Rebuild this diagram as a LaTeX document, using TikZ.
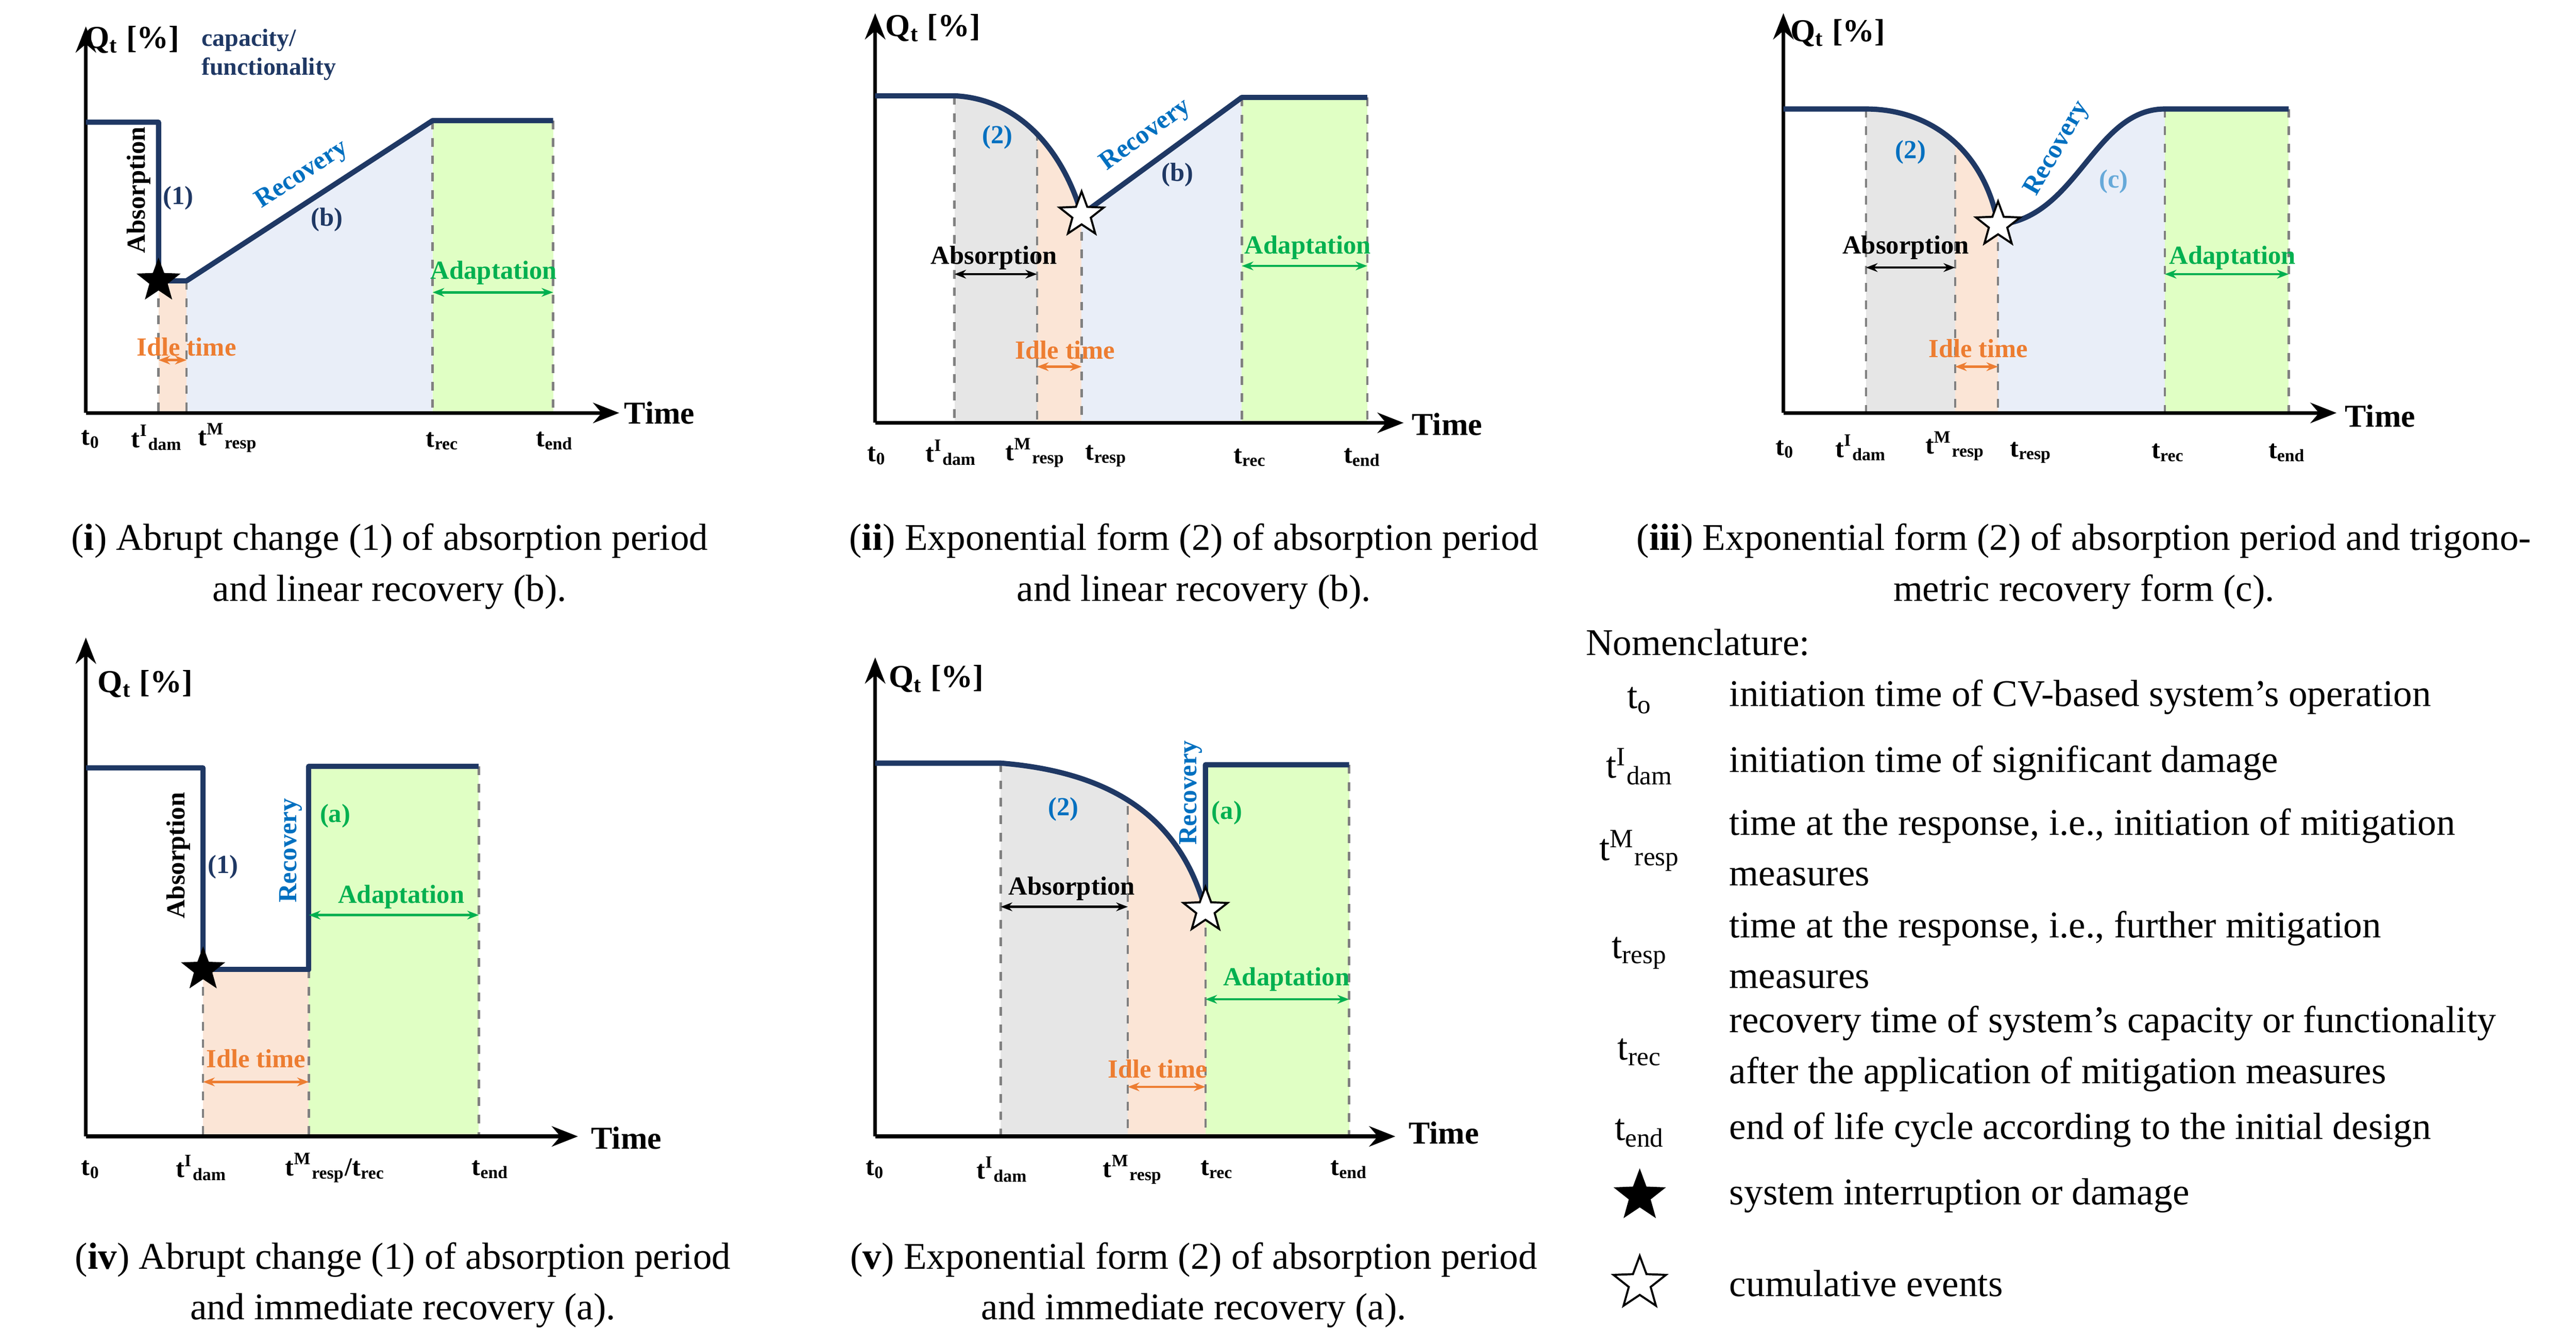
\documentclass[tikz,border=0pt]{standalone}
\usepackage{fontspec}
\setmainfont{Liberation Serif}
\usetikzlibrary{shapes.geometric,arrows.meta}
\definecolor{navy}{HTML}{1F3864}
\definecolor{bl}{HTML}{0070C0}
\definecolor{gr}{HTML}{00B050}
\definecolor{orr}{HTML}{ED7D31}
\definecolor{grayf}{HTML}{E6E6E6}
\definecolor{orf}{HTML}{FBE5D6}
\definecolor{bluf}{HTML}{E9EEF8}
\definecolor{grf}{HTML}{E0FFC4}
\tikzset{
 ax/.style={line width=1.3pt,-{Stealth[length=9pt,width=7pt]}},
 cur/.style={navy,line width=1.8pt,line join=round},
 dsh/.style={gray,dashed,line width=0.8pt},
 lab/.style={font=\fontsize{9}{10}\selectfont\bfseries,inner sep=1pt},
 tk/.style={font=\fontsize{9}{10}\selectfont\bfseries,inner sep=1pt},
 tm/.style={font=\fontsize{11}{12}\selectfont\bfseries,anchor=west,inner sep=1pt},
 dbl/.style={<->,>={Stealth[length=4pt]},line width=0.8pt},
 fstar/.style={star,star points=5,star point ratio=2.4,fill=black,minimum size=16pt,inner sep=0pt},
 ostar/.style={star,star points=5,star point ratio=2.4,fill=white,draw=black,line width=0.7pt,minimum size=16pt,inner sep=0pt},
 capt/.style={font=\fontsize{13}{17.5}\selectfont,align=center,inner sep=0pt},
 nm/.style={font=\fontsize{13}{17.5}\selectfont,inner sep=0pt},
}
\begin{document}
\begin{tikzpicture}[x=0.02cm,y=-0.02cm]
\useasboundingbox (0,0) rectangle (1560,813);
%================ (i)
\fill[orf] (96,170) rectangle (113,250);
\fill[bluf] (113,170) -- (262,73) -- (262,250) -- (113,250) -- cycle;
\fill[grf] (262,73) rectangle (335,250);
\foreach \x/\y in {96/170,113/170,262/73,335/73} \draw[dsh] (\x,\y) -- (\x,250);
\draw[ax] (52,250) -- (52,16);
\draw[ax] (52,250) -- (375,250);
\node[tm] (ti1) at (376,250) {Time};
\node[lab,font=\fontsize{11}{12}\selectfont\bfseries] (q1) at (80,24) {Q\textsubscript{t} [\%]};
\node[lab,navy,align=left,anchor=west,font=\fontsize{8.5}{10}\selectfont\bfseries] (cf1) at (120,33) {capacity/\\functionality};
\draw[cur] (52,74) -- (96,74) -- (96,170) -- (113,170) -- (262,73) -- (335,73);
\node[fstar] (s1) at (96,170) {};
\node[lab,rotate=90] (ab1) at (84,115) {Absorption};
\node[lab,navy] (n1) at (108,120) {(1)};
\node[lab,bl,rotate=33] (r1) at (183,106) {Recovery};
\node[lab,navy] (b1) at (198,133) {(b)};
\node[lab,gr] (ad1) at (299,165) {Adaptation};
\coordinate (a1l) at (262,177); \coordinate (a1r) at (335,177);
\draw[dbl,gr] (a1l) -- (a1r);
\node[lab,orr] (it1) at (113,210) {Idle time};
\coordinate (i1l) at (96,218); \coordinate (i1r) at (113,218);
\draw[dbl,orr] (i1l) -- (i1r);
\node[tk] at (55,266) {t\textsubscript{0}};
\node[tk] at (95,265) {t\textsuperscript{I}\textsubscript{dam}};
\node[tk] at (138,265) {t\textsuperscript{M}\textsubscript{resp}};
\node[tk] at (268,267) {t\textsubscript{rec}};
\node[tk] at (336,267) {t\textsubscript{end}};
\node[capt] at (236,343) {(\textbf{i}) Abrupt change (1) of absorption period\\and linear recovery (b).};
%================ (ii)
\begin{scope}
\clip (578,58) .. controls (620,60) and (645,95) .. (655,130) -- (752,59) -- (752,256) -- (578,256) -- cycle;
\fill[grayf] (578,0) rectangle (628,256);
\fill[orf] (628,0) rectangle (655,256);
\fill[bluf] (655,0) rectangle (752,256);
\end{scope}
\fill[grf] (752,59) rectangle (828,256);
\foreach \x/\y in {578/58,628/80,655/130,752/59,828/59} \draw[dsh] (\x,\y) -- (\x,256);
\draw[ax] (530,256) -- (530,8);
\draw[ax] (530,256) -- (850,256);
\node[tm] at (853,257) {Time};
\node[lab,font=\fontsize{11}{12}\selectfont\bfseries] at (565,17) {Q\textsubscript{t} [\%]};
\draw[cur] (530,58) -- (578,58) .. controls (620,60) and (645,95) .. (655,130) -- (752,59) -- (828,59);
\node[ostar] (s2) at (655,130) {};
\node[lab,bl] at (604,83) {(2)};
\node[lab,bl,rotate=36] at (694,82) {Recovery};
\node[lab,navy] at (713,106) {(b)};
\node[lab] at (602,156) {Absorption};
\coordinate (a2l) at (578,166); \coordinate (a2r) at (628,166);
\draw[dbl] (a2l) -- (a2r);
\node[lab,orr] at (645,212) {Idle time};
\coordinate (i2l) at (628,222); \coordinate (i2r) at (655,222);
\draw[dbl,orr] (i2l) -- (i2r);
\node[lab,gr] at (792,150) {Adaptation};
\coordinate (d2l) at (752,161); \coordinate (d2r) at (828,161);
\draw[dbl,gr] (d2l) -- (d2r);
\node[tk] at (531,276) {t\textsubscript{0}};
\node[tk] at (576,274) {t\textsuperscript{I}\textsubscript{dam}};
\node[tk] at (627,274) {t\textsuperscript{M}\textsubscript{resp}};
\node[tk] at (670,276) {t\textsubscript{resp}};
\node[tk] at (757,277) {t\textsubscript{rec}};
\node[tk] at (825,277) {t\textsubscript{end}};
\node[capt] at (723,343) {(\textbf{ii}) Exponential form (2) of absorption period\\and linear recovery (b).};
%================ (iii)
\begin{scope}
\clip (1130,66) .. controls (1170,66) and (1202,92) .. (1210,136) .. controls (1258,132) and (1268,66) .. (1311,66) -- (1311,250) -- (1130,250) -- cycle;
\fill[grayf] (1130,0) rectangle (1184,250);
\fill[orf] (1184,0) rectangle (1210,250);
\fill[bluf] (1210,0) rectangle (1311,250);
\end{scope}
\fill[grf] (1311,66) rectangle (1386,250);
\foreach \x/\y in {1130/66,1184/94,1210/136,1311/66,1386/66} \draw[dsh] (\x,\y) -- (\x,250);
\draw[ax] (1080,250) -- (1080,8);
\draw[ax] (1080,250) -- (1415,250);
\node[tm] at (1418,252) {Time};
\node[lab,font=\fontsize{11}{12}\selectfont\bfseries] at (1113,20) {Q\textsubscript{t} [\%]};
\draw[cur] (1080,66) -- (1130,66) .. controls (1170,66) and (1202,92) .. (1210,136) .. controls (1258,132) and (1268,66) .. (1311,66) -- (1386,66);
\node[ostar] (s3) at (1210,136) {};
\node[lab,bl] at (1157,92) {(2)};
\node[lab,bl,rotate=60] at (1246,90) {Recovery};
\node[lab,bl!60] at (1280,110) {(c)};
\node[lab] at (1154,150) {Absorption};
\coordinate (a3l) at (1130,162); \coordinate (a3r) at (1184,162);
\draw[dbl] (a3l) -- (a3r);
\node[lab,orr] at (1198,211) {Idle time};
\coordinate (i3l) at (1184,222); \coordinate (i3r) at (1210,222);
\draw[dbl,orr] (i3l) -- (i3r);
\node[lab,gr] at (1352,156) {Adaptation};
\coordinate (d3l) at (1311,166); \coordinate (d3r) at (1386,166);
\draw[dbl,gr] (d3l) -- (d3r);
\node[tk] at (1081,272) {t\textsubscript{0}};
\node[tk] at (1127,271) {t\textsuperscript{I}\textsubscript{dam}};
\node[tk] at (1184,270) {t\textsuperscript{M}\textsubscript{resp}};
\node[tk] at (1230,274) {t\textsubscript{resp}};
\node[tk] at (1313,274) {t\textsubscript{rec}};
\node[tk] at (1385,274) {t\textsubscript{end}};
\node[capt] at (1262,343) {(\textbf{iii}) Exponential form (2) of absorption period and trigono-\\metric recovery form (c).};
%================ (iv)
\fill[orf] (123,587) rectangle (187,688);
\fill[grf] (187,464) rectangle (290,688);
\foreach \x/\y in {123/587,187/587,290/464} \draw[dsh] (\x,\y) -- (\x,688);
\draw[ax] (52,688) -- (52,386);
\draw[ax] (52,688) -- (350,688);
\node[tm] at (356,689) {Time};
\node[lab,font=\fontsize{11}{12}\selectfont\bfseries] at (88,414) {Q\textsubscript{t} [\%]};
\draw[cur] (52,465) -- (123,465) -- (123,587) -- (187,587) -- (187,464) -- (290,464);
\node[fstar] (s4) at (123,587) {};
\node[lab,rotate=90] at (108,518) {Absorption};
\node[lab,navy] at (135,525) {(1)};
\node[lab,bl,rotate=90] at (176,515) {Recovery};
\node[lab,gr] at (203,494) {(a)};
\node[lab,gr] at (243,543) {Adaptation};
\coordinate (d4l) at (187,554); \coordinate (d4r) at (290,554);
\draw[dbl,gr] (d4l) -- (d4r);
\node[lab,orr] at (155,641) {Idle time};
\coordinate (i4l) at (123,655); \coordinate (i4r) at (187,655);
\draw[dbl,orr] (i4l) -- (i4r);
\node[tk] at (55,708) {t\textsubscript{0}};
\node[tk] at (122,707) {t\textsuperscript{I}\textsubscript{dam}};
\node[tk] at (203,707) {t\textsuperscript{M}\textsubscript{resp}/t\textsubscript{rec}};
\node[tk] at (297,708) {t\textsubscript{end}};
\node[capt] at (244,778) {(\textbf{iv}) Abrupt change (1) of absorption period\\and immediate recovery (a).};
%================ (v)
\begin{scope}
\clip (606,462) .. controls (680,468) and (716,500) .. (730,551) -- (730,688) -- (606,688) -- cycle;
\fill[grayf] (606,400) rectangle (683,688);
\fill[orf] (683,400) rectangle (730,688);
\end{scope}
\fill[grf] (730,463) rectangle (817,688);
\foreach \x/\y in {606/462,683/488,730/551,817/463} \draw[dsh] (\x,\y) -- (\x,688);
\draw[ax] (530,688) -- (530,398);
\draw[ax] (530,688) -- (845,688);
\node[tm] at (851,686) {Time};
\node[lab,font=\fontsize{11}{12}\selectfont\bfseries] at (567,411) {Q\textsubscript{t} [\%]};
\draw[cur] (530,462) -- (606,462) .. controls (680,468) and (716,500) .. (730,551) -- (730,463) -- (817,463);
\node[ostar] (s5) at (730,551) {};
\node[lab,bl] at (644,490) {(2)};
\node[lab,bl,rotate=90] at (721,480) {Recovery};
\node[lab,gr] at (743,492) {(a)};
\node[lab] at (649,538) {Absorption};
\coordinate (a5l) at (606,549); \coordinate (a5r) at (683,549);
\draw[dbl] (a5l) -- (a5r);
\node[lab,orr] at (701,647) {Idle time};
\coordinate (i5l) at (683,658); \coordinate (i5r) at (730,658);
\draw[dbl,orr] (i5l) -- (i5r);
\node[lab,gr] at (779,593) {Adaptation};
\coordinate (d5l) at (730,605); \coordinate (d5r) at (817,605);
\draw[dbl,gr] (d5l) -- (d5r);
\node[tk] at (530,708) {t\textsubscript{0}};
\node[tk] at (607,708) {t\textsuperscript{I}\textsubscript{dam}};
\node[tk] at (686,708) {t\textsuperscript{M}\textsubscript{resp}};
\node[tk] at (737,708) {t\textsubscript{rec}};
\node[tk] at (817,708) {t\textsubscript{end}};
\node[capt] at (723,778) {(\textbf{v}) Exponential form (2) of absorption period\\and immediate recovery (a).};
%================ Nomenclature
\node[nm,anchor=west] at (960,389) {Nomenclature:};
\node[nm] at (993,424) {t\textsubscript{o}};
\node[nm,anchor=west] at (1047,422) {initiation time of CV-based system’s operation};
\node[nm] at (993,464) {t\textsuperscript{I}\textsubscript{dam}};
\node[nm,anchor=west] at (1047,462) {initiation time of significant damage};
\node[nm] at (993,515) {t\textsuperscript{M}\textsubscript{resp}};
\node[nm,anchor=west,align=left] at (1047,513) {time at the response, i.e., initiation of mitigation\\measures};
\node[nm] at (993,577) {t\textsubscript{resp}};
\node[nm,anchor=west,align=left] at (1047,575) {time at the response, i.e., further mitigation\\measures};
\node[nm] at (993,637) {t\textsubscript{rec}};
\node[nm,anchor=west,align=left] at (1047,635) {recovery time of system’s capacity or functionality\\after the application of mitigation measures};
\node[nm] at (993,686) {t\textsubscript{end}};
\node[nm,anchor=west] at (1047,684) {end of life cycle according to the initial design};
\node[fstar,minimum size=19pt] at (993,724) {};
\node[nm,anchor=west] at (1047,724) {system interruption or damage};
\node[ostar,minimum size=19pt] at (993,777) {};
\node[nm,anchor=west] at (1047,777) {cumulative events};
\end{tikzpicture}
\end{document}
